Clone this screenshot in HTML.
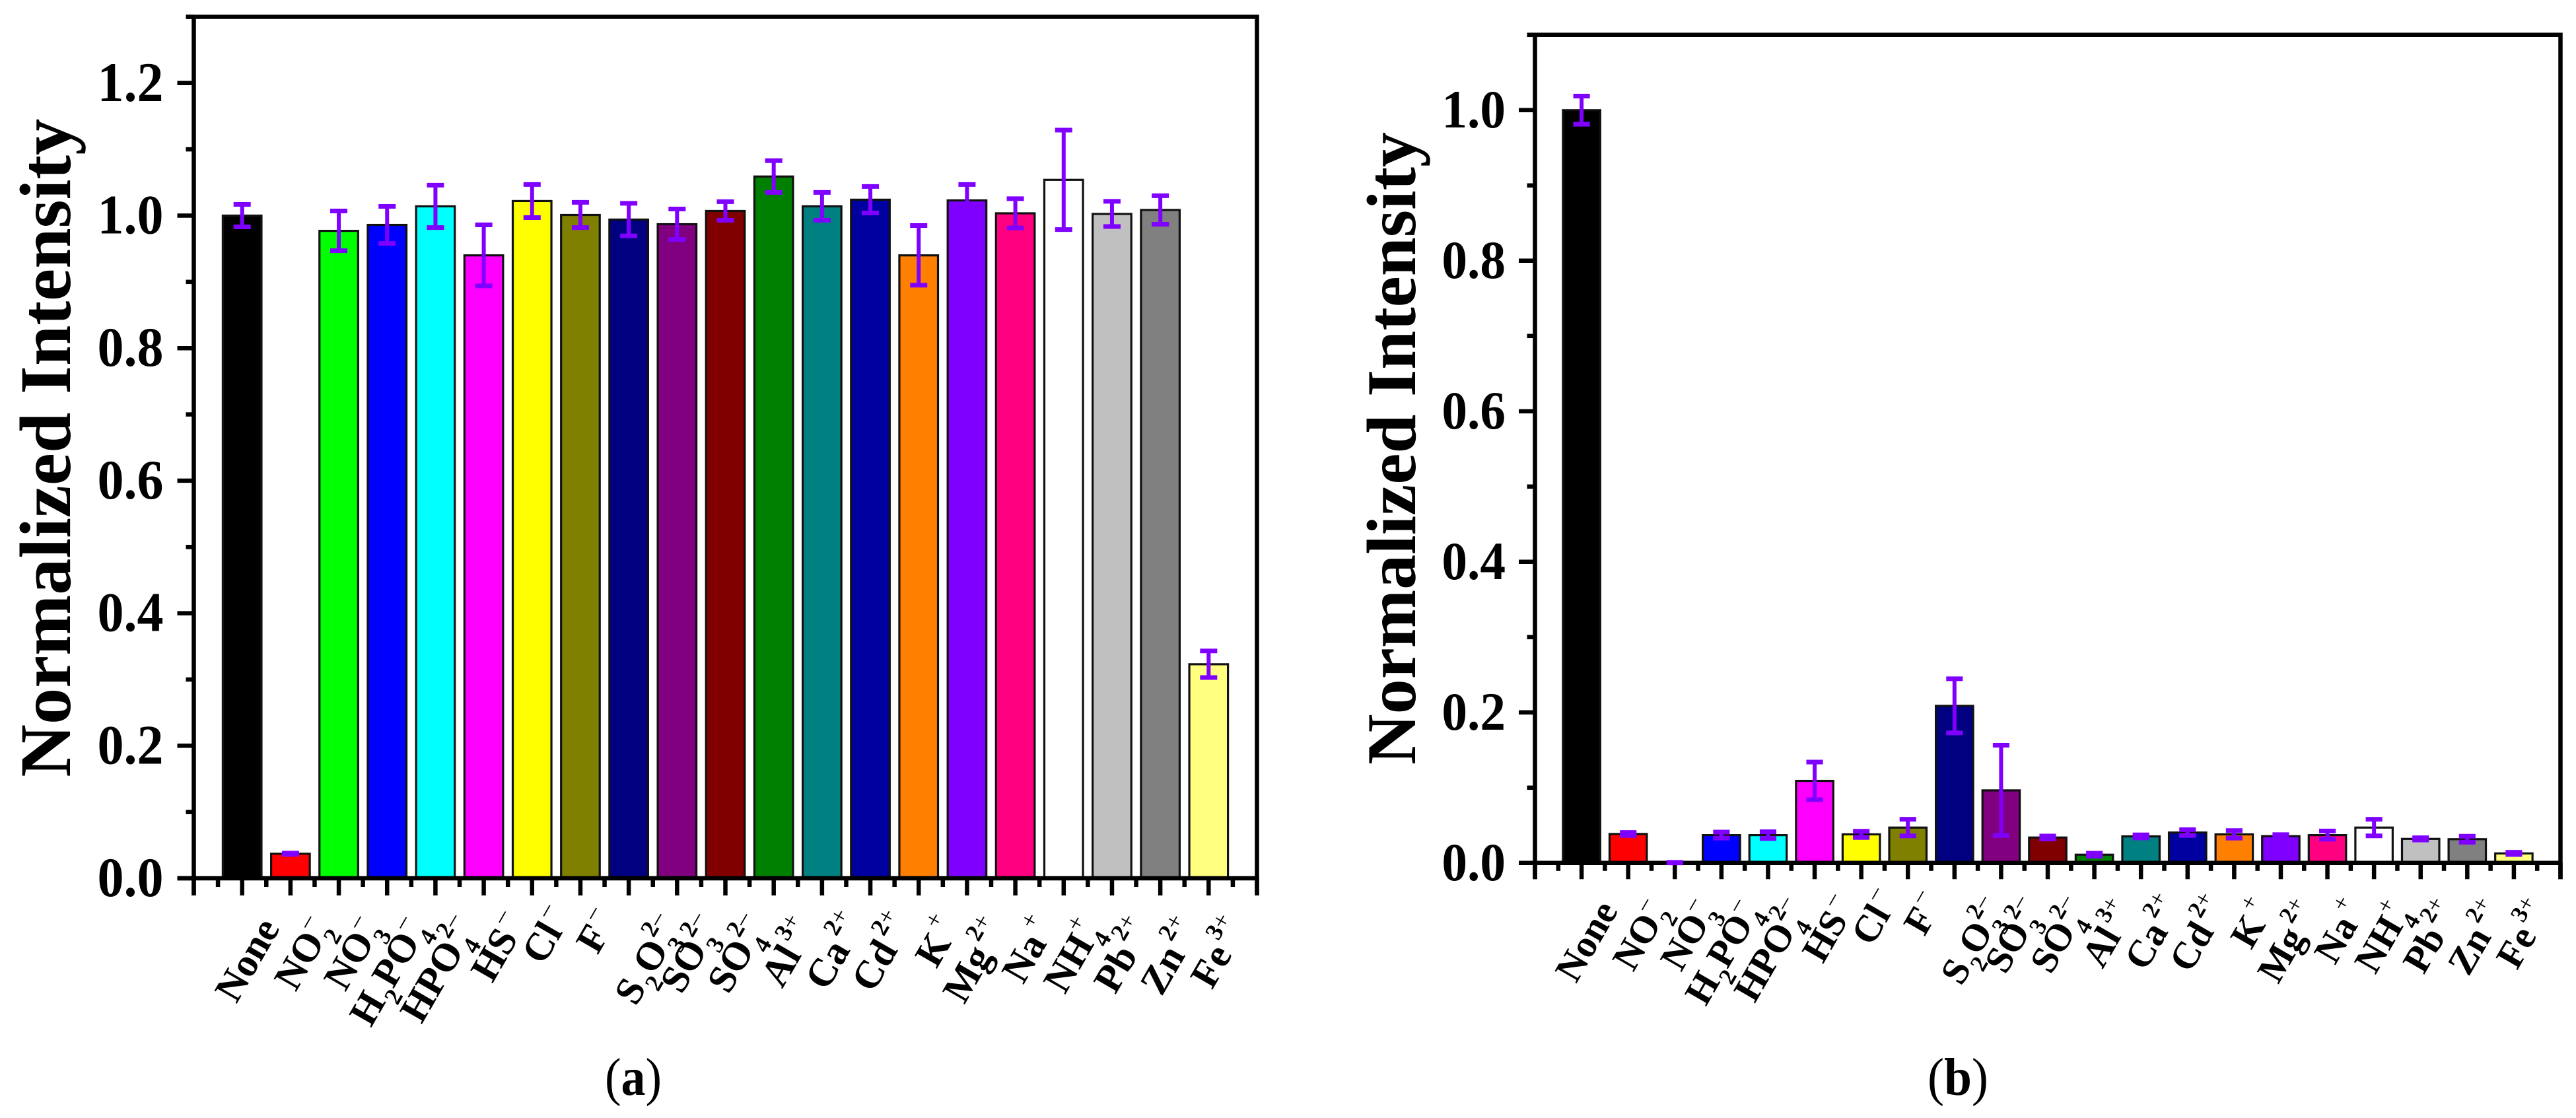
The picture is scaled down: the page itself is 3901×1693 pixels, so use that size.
<!DOCTYPE html>
<html lang="en">
<head>
<meta charset="utf-8">
<title>Normalized Intensity bar charts</title>
<style>
html,body{margin:0;padding:0;background:#fff;}
svg{display:block;}
text{font-family:"Liberation Serif",serif;fill:#000;}
</style>
</head>
<body>
<svg id="figure" xmlns="http://www.w3.org/2000/svg" width="3901" height="1693" viewBox="0 0 3901 1693">
  <rect x="0" y="0" width="3901" height="1693" fill="#ffffff"/>
  <g id="panelA"></g>
  <g id="panelB"></g>
  <text x="916" y="1658" font-size="80" textLength="86" lengthAdjust="spacingAndGlyphs">(<tspan font-weight="bold">a</tspan>)</text>
  <text x="2919" y="1658" font-size="80" textLength="92" lengthAdjust="spacingAndGlyphs">(<tspan font-weight="bold">b</tspan>)</text>
</svg>
<script>
// Category labels: m = main text, b = subscript, p = superscript digit, s = superscript sign
const categoryLabels = [
  [['m','None']],
  [['m','NO'],['b','2'],['s','\u2013']],
  [['m','NO'],['b','3'],['s','\u2013']],
  [['m','H'],['b','2'],['m','PO'],['b','4'],['s','\u2013']],
  [['m','HPO'],['b','4'],['p','2'],['s','\u2013']],
  [['m','HS'],['s','\u2013']],
  [['m','Cl'],['s','\u2013']],
  [['m','F'],['s','\u2013']],
  [['m','S'],['b','2'],['m','O'],['b','3'],['p','2'],['s','\u2013']],
  [['m','SO'],['b','3'],['p','2'],['s','\u2013']],
  [['m','SO'],['b','4'],['p','2'],['s','\u2013']],
  [['m','Al'],['p','3'],['s','+']],
  [['m','Ca'],['p','2'],['s','+']],
  [['m','Cd'],['p','2'],['s','+']],
  [['m','K'],['s','+']],
  [['m','Mg'],['p','2'],['s','+']],
  [['m','Na'],['s','+']],
  [['m','NH'],['b','4'],['s','+']],
  [['m','Pb'],['p','2'],['s','+']],
  [['m','Zn'],['p','2'],['s','+']],
  [['m','Fe'],['p','3'],['s','+']]
];
const categoryNames = ['none','no2','no3','h2po4','hpo4','hs','cl','f','s2o3','so3','so4','al','ca','cd','k','mg','na','nh4','pb','zn','fe'];
const barColors = ['#000000','#ff0000','#00ff00','#0000ff','#00ffff','#ff00ff','#ffff00','#808000','#000080','#800080','#800000','#008000','#008080','#0000a0','#ff8000','#8000ff','#ff0080','#ffffff','#c0c0c0','#808080','#ffff80'];

const valuesA = [1.000,0.037,0.977,0.986,1.014,0.940,1.022,1.001,0.994,0.987,1.007,1.059,1.014,1.024,0.940,1.023,1.0035,1.054,1.0025,1.0085,0.323];
const errorsA = [0.017,0.001,0.030,0.028,0.032,0.046,0.025,0.019,0.0245,0.023,0.014,0.024,0.021,0.020,0.045,0.024,0.022,0.075,0.019,0.0215,0.020];
const valuesB = [1.000,0.0385,0.0005,0.037,0.037,0.109,0.038,0.047,0.2087,0.0964,0.0338,0.011,0.0353,0.0404,0.038,0.0356,0.037,0.047,0.032,0.0316,0.0127];
const errorsB = [0.0187,0.002,0.0003,0.004,0.0045,0.025,0.0042,0.011,0.036,0.060,0.002,0.002,0.002,0.0038,0.005,0.002,0.0055,0.011,0.0015,0.004,0.0015];

const yTickLabelsA = ['0.0','0.2','0.4','0.6','0.8','1.0','1.2'];
const yTickLabelsB = ['0.0','0.2','0.4','0.6','0.8','1.0'];
const axisTitle = 'Normalized Intensity';

// Layout: baseline start of each rotated label relative to its tick [dx, dy from tick end]
const labelLayout = [[-8.7,165],[8,147],[10,147],[-24.5,201],[-21,196],[13,134],[17,107],[26,91],[11,169],[7,151],[5,151],[13,142],[7,146],[4,149],[27,112],[-4,166],[12,136],[2,151],[5,151],[2,154],[5,144]];

const SVGNS = 'http://www.w3.org/2000/svg';
function make(parent, tag, attrs) {
  const el = document.createElementNS(SVGNS, tag);
  for (const k in attrs) el.setAttribute(k, attrs[k]);
  parent.appendChild(el);
  return el;
}

function drawChart(root, cfg) {
  const xScale = v => cfg.xLeft + (cfg.xRight - cfg.xLeft) * v / cfg.xMax;
  const yScale = v => cfg.yZero - cfg.yUnit * v;
  const s = cfg.scale;
  const barW = 0.8 * (cfg.xRight - cfg.xLeft) / cfg.xMax;
  const AX = 'stroke:#000;stroke-width:6.5';

  // bars
  const bars = make(root, 'g', {});
  
  
  cfg.values.forEach((v, i) => {
    const r = make(bars, 'rect', {x: xScale(i + 1) - barW / 2, y: yScale(v), width: barW, height: yScale(0) - yScale(v), fill: barColors[i], stroke: '#111', 'stroke-width': 3.2});
    
    
  });

  // axes frame
  const axes = make(root, 'g', {style: AX, fill: 'none'});
  
  
  const yTop = yScale(cfg.yMax);
  const yMajorEnd = yScale(0) + cfg.xMajorLen;
  const yMinorEnd = yScale(0) + cfg.xMinorLen;
  make(axes, 'line', {x1: xScale(0), x2: xScale(0), y1: yTop - 3, y2: yMajorEnd});
  make(axes, 'line', {x1: xScale(cfg.xMax), x2: xScale(cfg.xMax), y1: yTop - 3, y2: yMajorEnd});
  make(axes, 'line', {x1: xScale(0) - cfg.yMinorLen, x2: xScale(cfg.xMax) + 3, y1: yTop, y2: yTop});
  make(axes, 'line', {x1: xScale(0) - cfg.yMajorLen, x2: xScale(cfg.xMax) + 3, y1: yScale(0), y2: yScale(0)});

  // y ticks
  cfg.yTicks.forEach(lbl => {
    const v = parseFloat(lbl);
    const t = make(axes, 'line', {x1: xScale(0) - cfg.yMajorLen, x2: xScale(0), y1: yScale(v), y2: yScale(v)});
    
    
    const m = make(axes, 'line', {x1: xScale(0) - cfg.yMinorLen, x2: xScale(0), y1: yScale(v + 0.1), y2: yScale(v + 0.1)});
    
    
    const tx = make(root, 'text', {x: cfg.yLabelRight, y: yScale(v) + 27 * s, 'font-size': cfg.yLabelSize, 'font-weight': 'bold', 'text-anchor': 'end', textLength: cfg.yLabelWidth, lengthAdjust: 'spacingAndGlyphs'});
    
    
    tx.textContent = lbl;
  });

  // x ticks
  for (let i = 0; i <= cfg.xMax; i++) {
    const t = make(axes, 'line', {x1: xScale(i), x2: xScale(i), y1: yScale(0), y2: yMajorEnd});
    
    
    if (i < cfg.xMax) {
      const m = make(axes, 'line', {x1: xScale(i + 0.5), x2: xScale(i + 0.5), y1: yScale(0), y2: yMinorEnd});
      
      
    }
  }

  // error bars
  const errs = make(root, 'g', {stroke: '#8000ff', fill: 'none'});
  
  
  cfg.values.forEach((v, i) => {
    const e = cfg.errors[i];
    const cx = xScale(i + 1);
    const capW = 26 * s;
    const grp = make(errs, 'g', {});
    
    
    make(grp, 'line', {x1: cx, x2: cx, y1: yScale(v + e), y2: yScale(v - e), 'stroke-width': 6});
    make(grp, 'line', {x1: cx - capW / 2, x2: cx + capW / 2, y1: yScale(v + e), y2: yScale(v + e), 'stroke-width': 7});
    make(grp, 'line', {x1: cx - capW / 2, x2: cx + capW / 2, y1: yScale(v - e), y2: yScale(v - e), 'stroke-width': 7});
  });

  // x category labels
  const F = cfg.xLabelSize;
  const subF = F * 0.62;
  categoryLabels.forEach((parts, i) => {
    const L = labelLayout[i];
    const g = make(root, 'g', {transform: 'translate(' + (xScale(i + 1) + L[0] * s) + ',' + (yMajorEnd + L[1] * s) + ') rotate(-60)'});
    const tx = make(g, 'text', {x: 0, y: 0, 'font-size': F, 'font-weight': 'bold'});
    
    
    let level = 0;
    let prev = 'm';
    parts.forEach(p => {
      const kind = p[0];
      const text = p[1];
      const sp = make(tx, 'tspan', {});
      if (kind === 'm') {
        sp.setAttribute('font-size', F);
        sp.setAttribute('dy', -level);
        level = 0;
      } else if (kind === 'b') {
        const d = 0.3 * F;
        sp.setAttribute('font-size', subF);
        sp.setAttribute('dy', d - level);
        sp.setAttribute('dx', 0.04 * F);
        level = d;
      } else {
        const d = -0.48 * F;
        sp.setAttribute('font-size', subF);
        if (kind === 's') sp.setAttribute('font-weight', 'normal');
        sp.setAttribute('dy', d - level);
        if (prev === 'b') sp.setAttribute('dx', -0.5 * subF);
        else if (prev === 'm') sp.setAttribute('dx', 0.1 * F);
        level = d;
      }
      sp.textContent = text;
      prev = kind;
    });
  });

  // y axis title
  const title = make(root, 'text', {transform: 'translate(' + cfg.titleX + ',' + cfg.titleY + ') rotate(-90)', 'font-size': cfg.titleSize, 'font-weight': 'bold', textLength: cfg.titleLen, lengthAdjust: 'spacingAndGlyphs'});
  
  
  title.textContent = axisTitle;
}

drawChart(document.getElementById('panelA'), {
  values: valuesA, errors: errorsA, yTicks: yTickLabelsA,
  xLeft: 293.5, xRight: 1903.5, xMax: 22, yZero: 1330, yUnit: 1003.5, yMax: 1.3,
  yMajorLen: 25, yMinorLen: 12, xMajorLen: 26, xMinorLen: 13, scale: 1,
  yLabelRight: 247.5, yLabelSize: 85, yLabelWidth: 100, xLabelSize: 60,
  titleX: 106, titleY: 1176.7, titleSize: 110, titleLen: 997
});
drawChart(document.getElementById('panelB'), {
  values: valuesB, errors: errorsB, yTicks: yTickLabelsB,
  xLeft: 2324.5, xRight: 3877.5, xMax: 22, yZero: 1306.8, yUnit: 1140, yMax: 1.1,
  yMajorLen: 24.5, yMinorLen: 12, xMajorLen: 24.5, xMinorLen: 12, scale: 0.965,
  yLabelRight: 2280, yLabelSize: 82, yLabelWidth: 96.6, xLabelSize: 58,
  titleX: 2143, titleY: 1158, titleSize: 106, titleLen: 958
});
</script>
</body>
</html>
